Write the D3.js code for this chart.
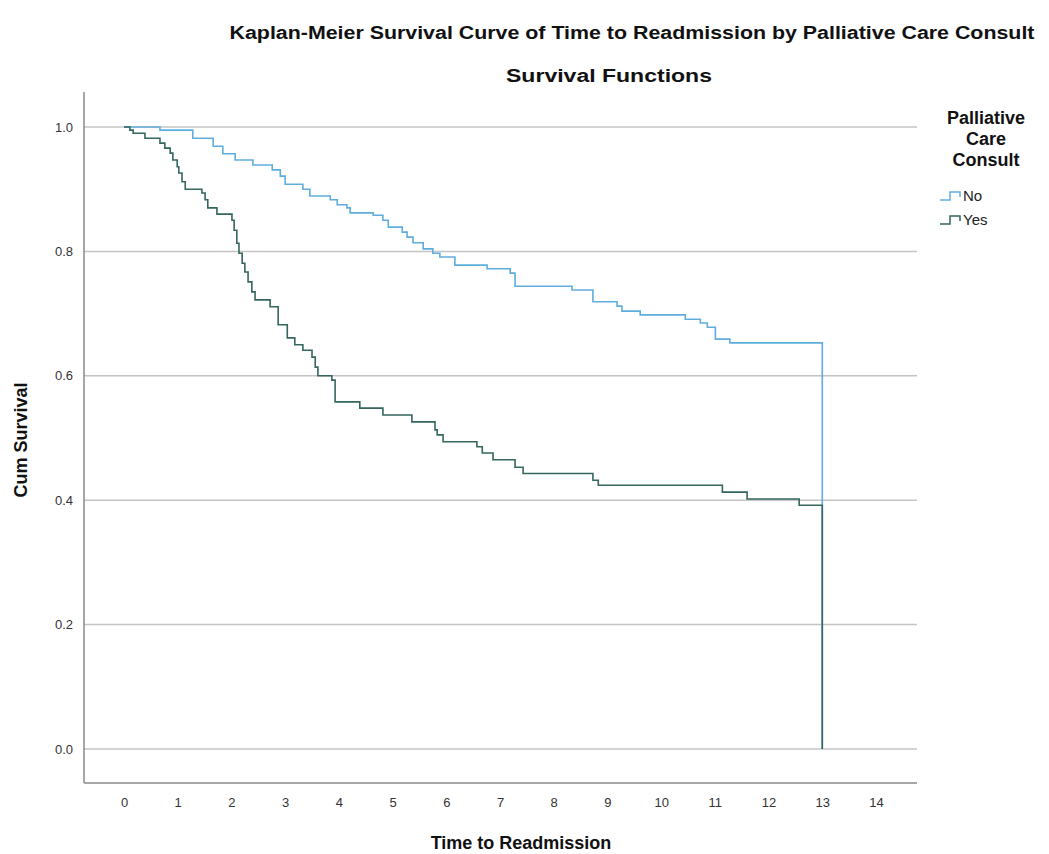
<!DOCTYPE html>
<html>
<head>
<meta charset="utf-8">
<script src="https://cdn.jsdelivr.net/npm/d3@7"></script>
<style>
body { margin: 0; background: #fff; }
text { font-family: "Liberation Sans", Arial, sans-serif; }
</style>
</head>
<body>
<div id="chart"></div>
<script>
// size of the page
var width = 1049;
var height = 854;

// groups and colours
var groups = ["No", "Yes"];
var colors = ["#5fadde", "#35665f"];

// Kaplan-Meier steps (time of drop, survival after drop)
var noTimes = [0.67, 1.28, 1.66, 1.84, 2.07, 2.40, 2.76, 2.91, 3.00, 3.33, 3.46, 3.84, 3.97, 4.15, 4.21, 4.64, 4.82, 4.92, 5.18, 5.27, 5.38, 5.57, 5.75, 5.88, 6.16, 6.76, 7.19, 7.28, 8.34, 8.73, 9.18, 9.27, 9.61, 10.45, 10.73, 10.86, 11.01, 11.28];
var noSurv  = [0.995, 0.982, 0.969, 0.957, 0.947, 0.939, 0.931, 0.921, 0.908, 0.900, 0.889, 0.883, 0.875, 0.870, 0.862, 0.858, 0.850, 0.839, 0.831, 0.823, 0.814, 0.804, 0.797, 0.791, 0.778, 0.772, 0.765, 0.744, 0.738, 0.719, 0.712, 0.704, 0.698, 0.691, 0.685, 0.678, 0.659, 0.653];

var yesTimes = [0.11, 0.17, 0.39, 0.67, 0.76, 0.86, 0.91, 0.99, 1.02, 1.08, 1.14, 1.45, 1.51, 1.56, 1.73, 2.01, 2.05, 2.10, 2.14, 2.20, 2.25, 2.31, 2.38, 2.44, 2.72, 2.87, 3.04, 3.18, 3.33, 3.50, 3.56, 3.61, 3.87, 3.93, 4.39, 4.82, 5.36, 5.79, 5.83, 5.94, 6.57, 6.67, 6.87, 7.28, 7.43, 8.73, 8.83, 11.14, 11.60, 12.57];
var yesSurv  = [0.995, 0.990, 0.982, 0.974, 0.966, 0.958, 0.947, 0.936, 0.926, 0.912, 0.900, 0.894, 0.883, 0.870, 0.860, 0.850, 0.834, 0.813, 0.797, 0.781, 0.767, 0.751, 0.735, 0.722, 0.711, 0.682, 0.661, 0.650, 0.641, 0.630, 0.614, 0.600, 0.593, 0.558, 0.548, 0.537, 0.526, 0.513, 0.505, 0.494, 0.486, 0.476, 0.465, 0.453, 0.443, 0.432, 0.424, 0.413, 0.402, 0.392];

// last time, where both curves drop to zero
var endTime = 13;

// axis ticks
var xTicks = d3.range(0, 15);
var yTicks = [0, 0.2, 0.4, 0.6, 0.8, 1.0];

// frame of the plot
var plotLeft = 84, plotRight = 917, plotTop = 92, plotBottom = 783;

var x = d3.scaleLinear().domain([0, 14]).range([124, 876]);
var y = d3.scaleLinear().domain([0, 1]).range([749, 127]);

var svg = d3.select("#chart")
    .append("svg")
    .attr("width", width)
    .attr("height", height);

// titles
svg.append("text")
    .attr("x", 632)
    .attr("y", 39)
    .attr("text-anchor", "middle")
    .attr("textLength", 805)
    .attr("lengthAdjust", "spacingAndGlyphs")
    .style("font-size", "18px")
    .style("font-weight", "bold")
    .style("fill", "#111")
    .text("Kaplan-Meier Survival Curve of Time to Readmission by Palliative Care Consult");

svg.append("text")
    .attr("x", 609)
    .attr("y", 82)
    .attr("text-anchor", "middle")
    .attr("textLength", 206)
    .attr("lengthAdjust", "spacingAndGlyphs")
    .style("font-size", "18px")
    .style("font-weight", "bold")
    .style("fill", "#111")
    .text("Survival Functions");

// gridlines
svg.append("g")
    .selectAll("line")
    .data(yTicks)
    .enter()
    .append("line")
    .attr("x1", plotLeft)
    .attr("x2", plotRight)
    .attr("y1", function(d) { return y(d); })
    .attr("y2", function(d) { return y(d); })
    .style("stroke", "#c4c4c4")
    .style("stroke-width", 1.5);

// axis lines
svg.append("line")
    .attr("x1", plotLeft).attr("x2", plotLeft)
    .attr("y1", plotTop).attr("y2", plotBottom)
    .style("stroke", "#8a8a8a").style("stroke-width", 1.5);
svg.append("line")
    .attr("x1", plotLeft).attr("x2", plotRight)
    .attr("y1", plotBottom).attr("y2", plotBottom)
    .style("stroke", "#8a8a8a").style("stroke-width", 1.5);

// tick labels through d3 axes, no tick marks or domain
var xAxis = svg.append("g")
    .attr("transform", "translate(0," + (plotBottom + 12) + ")")
    .call(d3.axisBottom(x).tickValues(xTicks).tickSize(0).tickFormat(d3.format("d")));
xAxis.select(".domain").remove();
xAxis.selectAll("text")
    .style("font-size", "13px")
    .style("fill", "#333")
    .style("font-family", "'Liberation Sans', Arial, sans-serif");

var yAxis = svg.append("g")
    .attr("transform", "translate(" + (plotLeft - 8) + ",0)")
    .call(d3.axisLeft(y).tickValues(yTicks).tickSize(0).tickFormat(d3.format(".1f")));
yAxis.select(".domain").remove();
yAxis.selectAll("text")
    .style("font-size", "13px")
    .style("fill", "#333")
    .style("font-family", "'Liberation Sans', Arial, sans-serif");

// axis titles
svg.append("text")
    .attr("x", 521)
    .attr("y", 849)
    .attr("text-anchor", "middle")
    .style("font-size", "18px")
    .style("font-weight", "bold")
    .style("fill", "#111")
    .text("Time to Readmission");

svg.append("text")
    .attr("transform", "translate(27,440) rotate(-90)")
    .attr("text-anchor", "middle")
    .style("font-size", "18px")
    .style("font-weight", "bold")
    .style("fill", "#111")
    .text("Cum Survival");

// build the step curves
function stepPoints(times, surv) {
    var pts = [[0, 1]];
    for (var i = 0; i < times.length; i++) {
        pts.push([times[i], surv[i]]);
    }
    pts.push([endTime, surv[surv.length - 1]]);
    pts.push([endTime, 0]);
    return pts;
}

var line = d3.line()
    .x(function(d) { return x(d[0]); })
    .y(function(d) { return y(d[1]); })
    .curve(d3.curveStepAfter);

var curves = [stepPoints(noTimes, noSurv), stepPoints(yesTimes, yesSurv)];

svg.append("g")
    .selectAll("path")
    .data(curves)
    .enter()
    .append("path")
    .attr("d", line)
    .style("fill", "none")
    .style("stroke", function(d, i) { return colors[i]; })
    .style("stroke-width", 1.6);

// legend
var legendTitle = ["Palliative", "Care", "Consult"];
svg.append("g")
    .selectAll("text")
    .data(legendTitle)
    .enter()
    .append("text")
    .attr("x", 986)
    .attr("y", function(d, i) { return 124 + i * 21; })
    .attr("text-anchor", "middle")
    .style("font-size", "18px")
    .style("font-weight", "bold")
    .style("fill", "#111")
    .text(function(d) { return d; });

var item = svg.append("g")
    .selectAll("g")
    .data(groups)
    .enter()
    .append("g")
    .attr("transform", function(d, i) { return "translate(940," + (191 + i * 24) + ")"; });

item.append("path")
    .attr("d", "M0,9H10V1H20V6")
    .style("fill", "none")
    .style("stroke", function(d, i) { return colors[i]; })
    .style("stroke-width", 1.5);

item.append("text")
    .attr("x", 23)
    .attr("y", 10)
    .style("font-size", "15px")
    .style("fill", "#222")
    .text(function(d) { return d; });
</script>
</body>
</html>
